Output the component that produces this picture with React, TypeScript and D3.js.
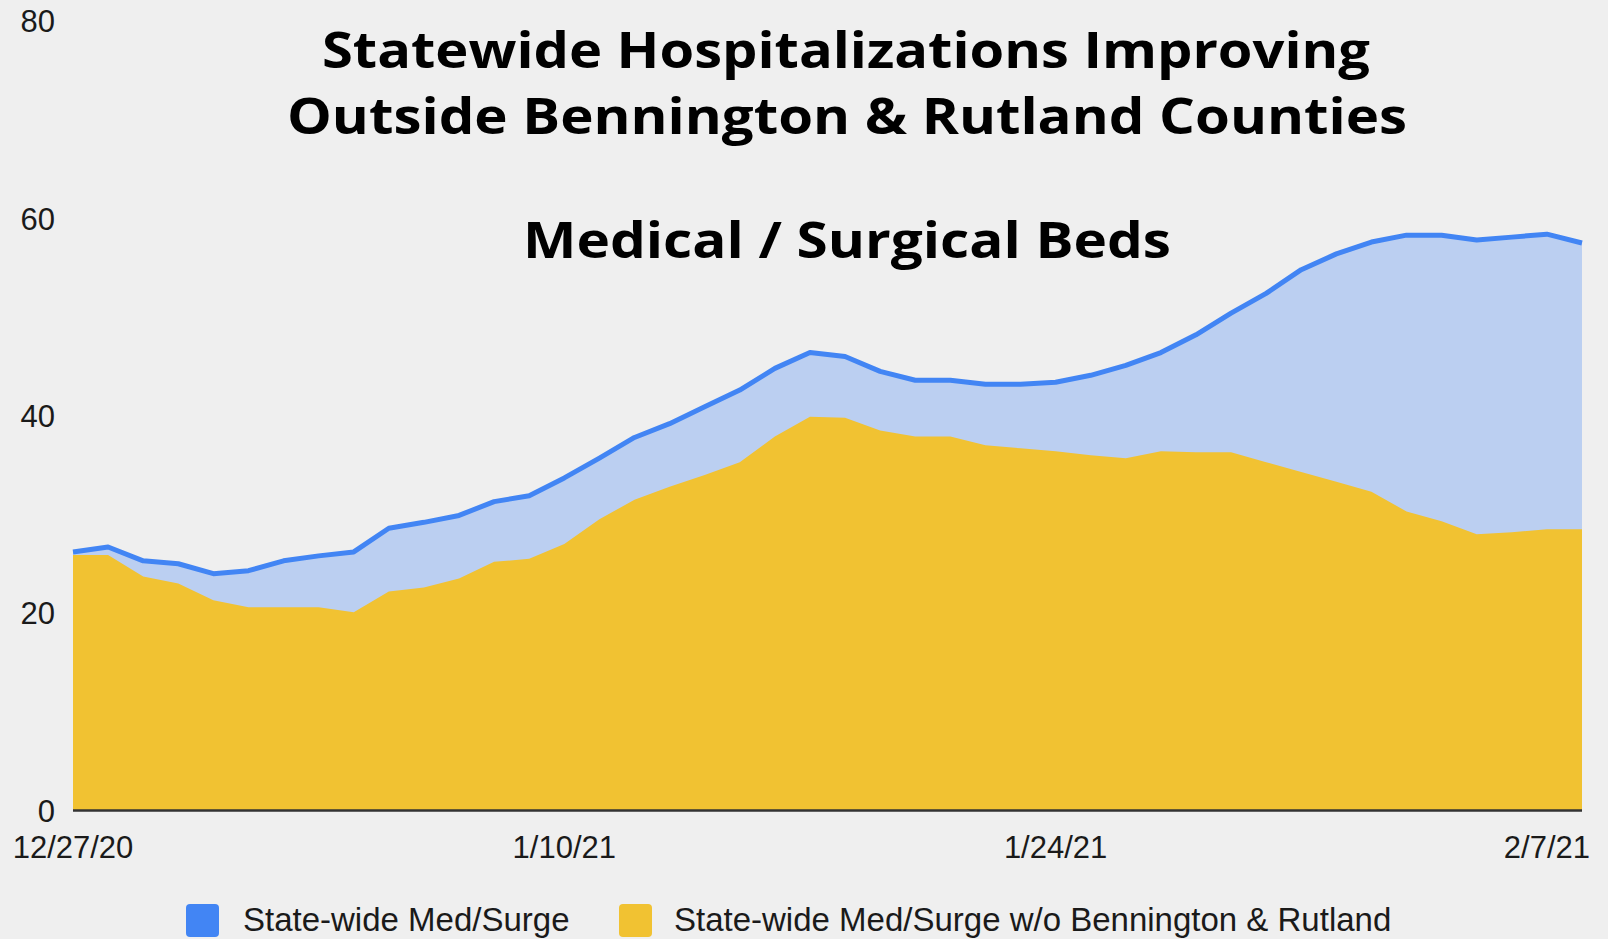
import React from "react";
import * as d3 from "d3";

const W = 1608;
const H = 939;

const startDate = new Date(2020, 11, 27);
const endDate = new Date(2021, 1, 8);
const dates = d3.timeDay.range(startDate, d3.timeDay.offset(endDate, 1));

const statewide = [26.2, 26.7, 25.3, 25.0, 24.0, 24.3, 25.3, 25.8, 26.2, 28.6, 29.2, 29.9, 31.3, 31.9, 33.7, 35.7, 37.8, 39.2, 40.9, 42.6, 44.8, 46.4, 46.0, 44.5, 43.6, 43.6, 43.2, 43.2, 43.4, 44.1, 45.1, 46.4, 48.2, 50.4, 52.4, 54.8, 56.4, 57.6, 58.3, 58.3, 57.8, 58.1, 58.4, 57.5];
const withoutBR = [25.9, 25.9, 23.7, 23.0, 21.3, 20.6, 20.6, 20.6, 20.1, 22.2, 22.6, 23.5, 25.2, 25.5, 27.0, 29.5, 31.5, 32.8, 34.0, 35.3, 37.9, 39.9, 39.8, 38.5, 37.9, 37.9, 37.0, 36.7, 36.4, 36.0, 35.7, 36.4, 36.3, 36.3, 35.3, 34.3, 33.3, 32.3, 30.3, 29.3, 28.0, 28.2, 28.5, 28.5];

const yTicks = [0, 20, 40, 60, 80];
const xTickDates = [new Date(2020, 11, 27), new Date(2021, 0, 10), new Date(2021, 0, 24), new Date(2021, 1, 7)];

const titleLines = ["Statewide Hospitalizations Improving", "Outside Bennington & Rutland Counties"];
const subtitle = "Medical / Surgical Beds";
const seriesNames = ["State-wide Med/Surge", "State-wide Med/Surge w/o Bennington & Rutland"];

const BLUE = "#4285f4";
const YELLOW = "#f1c232";
const BG = "#efefef";

export default function App() {
  const x = d3.scaleTime().domain([startDate, endDate]).range([73, 1582]);
  const y = d3.scaleLinear().domain([0, 80]).range([810.5, 21]);

  const rows = dates.map((d, i) => ({ d, a: statewide[i], b: withoutBR[i] }));

  const areaA = d3.area<any>().x((r) => x(r.d)).y0(y(0)).y1((r) => y(r.a));
  const areaB = d3.area<any>().x((r) => x(r.d)).y0(y(0)).y1((r) => y(r.b));
  const lineA = d3.line<any>().x((r) => x(r.d)).y((r) => y(r.a));
  const fmt = d3.timeFormat("%-m/%-d/%y");

  const font = "'Liberation Sans', Arial, sans-serif";
  const titleFont = "'Open Sans', 'Noto Sans', sans-serif";

  return (
    <svg width={W} height={H} style={{ position: "absolute", left: 0, top: 0, background: BG }}>
      <rect x={0} y={0} width={W} height={H} fill={BG} />
      <path d={areaA(rows) || ""} fill={BLUE} fillOpacity={0.3} />
      <path d={areaB(rows) || ""} fill={YELLOW} />
      <path d={lineA(rows) || ""} fill="none" stroke={BLUE} strokeWidth={5} strokeLinejoin="round" />
      <line x1={x(startDate)} x2={x(endDate)} y1={y(0)} y2={y(0)} stroke="#333" strokeWidth={2.5} />

      {yTicks.map((t) => (
        <text key={t} x={55} y={y(t)} dy="0.36em" textAnchor="end" fontFamily={font} fontSize={31} fill="#1a1a1a">
          {t}
        </text>
      ))}
      {xTickDates.map((t) => (
        <text key={+t} x={x(t)} y={858} textAnchor="middle" fontFamily={font} fontSize={31} fill="#1a1a1a">
          {fmt(t)}
        </text>
      ))}

      <text x={846} y={68} textAnchor="middle" fontFamily={titleFont} fontWeight={700} fontSize={51} fill="#000" textLength={1048} lengthAdjust="spacingAndGlyphs">
        {titleLines[0]}
      </text>
      <text x={847} y={134} textAnchor="middle" fontFamily={titleFont} fontWeight={700} fontSize={51} fill="#000" textLength={1120} lengthAdjust="spacingAndGlyphs">
        {titleLines[1]}
      </text>
      <text x={847} y={258} textAnchor="middle" fontFamily={titleFont} fontWeight={700} fontSize={51} fill="#000" textLength={648} lengthAdjust="spacingAndGlyphs">
        {subtitle}
      </text>

      <rect x={186} y={904} width={33} height={33} rx={4} fill={BLUE} />
      <text x={243} y={931} fontFamily={font} fontSize={33} fill="#1a1a1a">
        {seriesNames[0]}
      </text>
      <rect x={619} y={904} width={33} height={33} rx={4} fill={YELLOW} />
      <text x={674} y={931} fontFamily={font} fontSize={33} fill="#1a1a1a">
        {seriesNames[1]}
      </text>
    </svg>
  );
}
